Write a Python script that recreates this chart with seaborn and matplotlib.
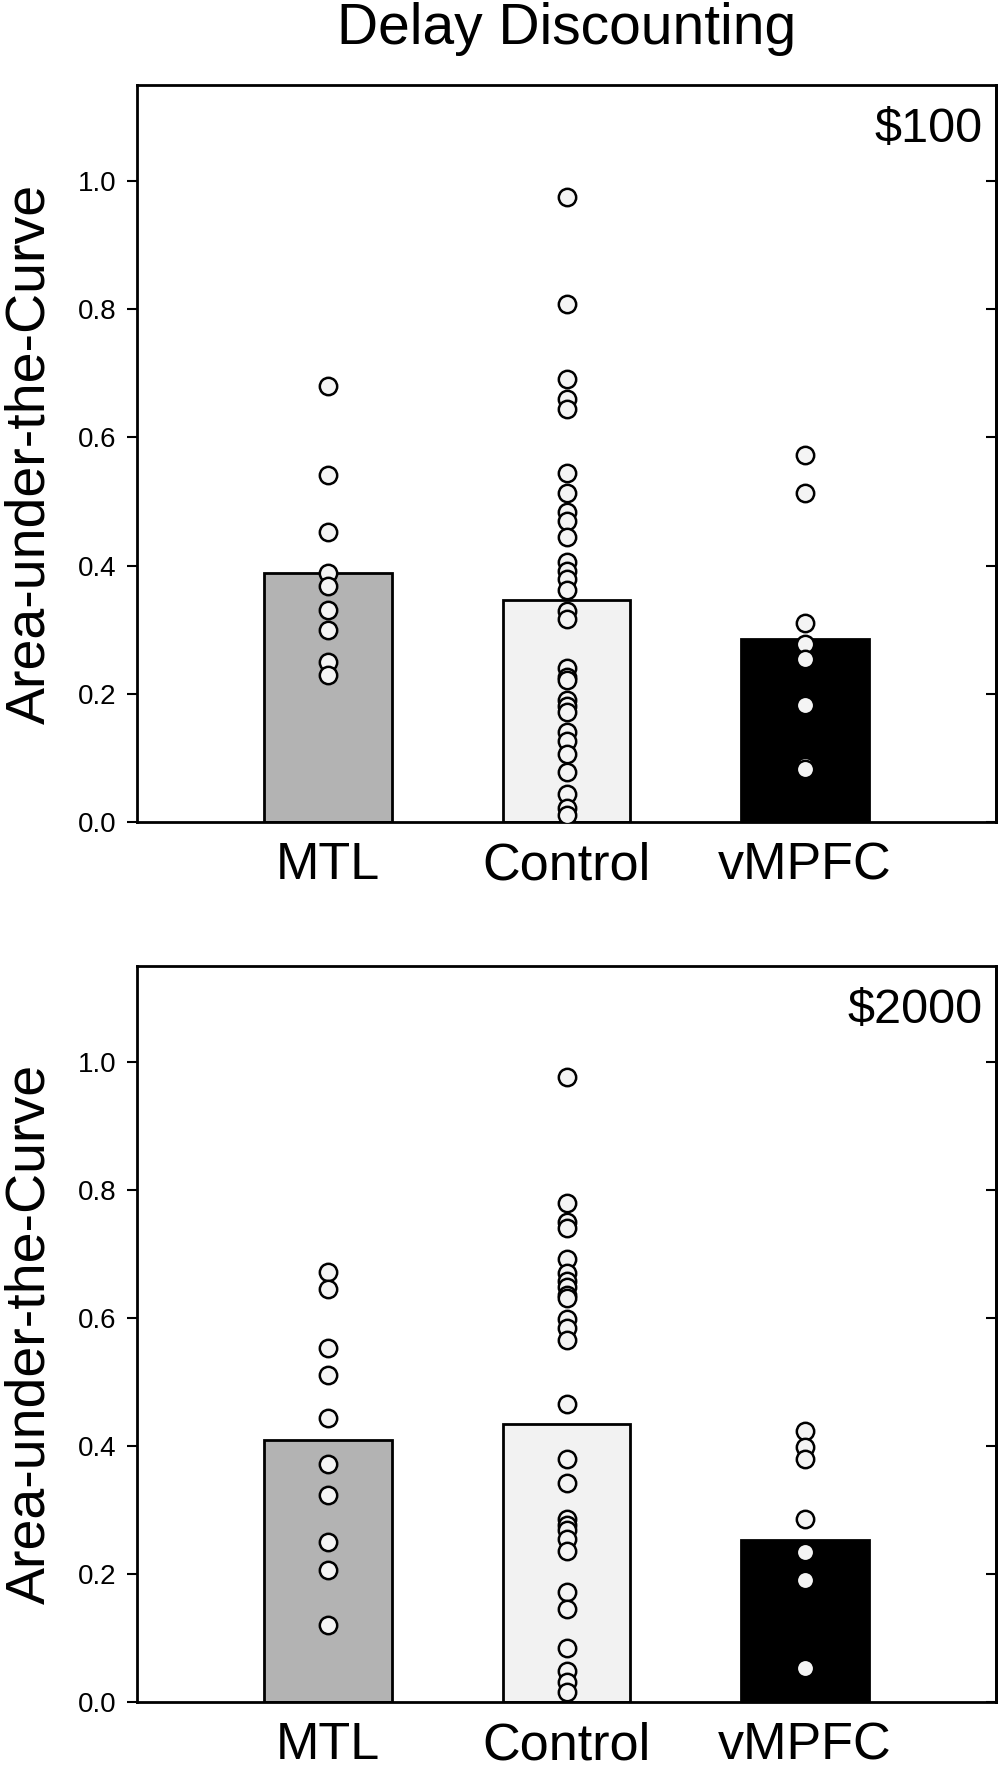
import numpy as np
import pandas as pd
import matplotlib
matplotlib.use('Agg')
import matplotlib.pyplot as plt
import seaborn as sns


groups = ['MTL', 'Control', 'vMPFC']
bar_colors = ['#b3b3b3', '#f2f2f2', '#000000']

# $100 condition
mtl_100 = [0.68, 0.542, 0.452, 0.388, 0.368, 0.331, 0.299, 0.249, 0.229]
control_100 = [0.975, 0.808, 0.692, 0.660, 0.645, 0.545, 0.514, 0.484, 0.470,
               0.444, 0.406, 0.391, 0.379, 0.362, 0.330, 0.317, 0.241, 0.226,
               0.222, 0.190, 0.181, 0.172, 0.141, 0.127, 0.106, 0.078, 0.043,
               0.022, 0.011]
vmpfc_100 = [0.572, 0.513, 0.310, 0.278, 0.255, 0.183, 0.087, 0.083]
means_100 = [0.389, 0.346, 0.286]

# $2000 condition
mtl_2000 = [0.672, 0.645, 0.553, 0.511, 0.443, 0.372, 0.323, 0.250, 0.207, 0.120]
control_2000 = [0.977, 0.779, 0.750, 0.741, 0.692, 0.670, 0.658, 0.649, 0.636,
                0.632, 0.598, 0.585, 0.566, 0.466, 0.380, 0.342, 0.286, 0.277,
                0.268, 0.254, 0.236, 0.172, 0.146, 0.084, 0.048, 0.031, 0.016]
vmpfc_2000 = [0.423, 0.399, 0.380, 0.286, 0.235, 0.190, 0.054, 0.053]
means_2000 = [0.409, 0.435, 0.253]

panels = [
    ('$100', [mtl_100, control_100, vmpfc_100], means_100),
    ('$2000', [mtl_2000, control_2000, vmpfc_2000], means_2000),
]

sns.set_style('ticks')
plt.rcParams['font.family'] = ['Liberation Sans', 'DejaVu Sans']
plt.rcParams.update({
    'text.color': 'black',
    'axes.labelcolor': 'black',
    'axes.edgecolor': 'black',
    'xtick.color': 'black',
    'ytick.color': 'black',
})

W, H = 1002, 1768
fig = plt.figure(figsize=(W / 100, H / 100), dpi=100)

# axes boxes in pixels: (left, top, right, bottom)
boxes = [(137, 85, 996, 822), (137, 966, 996, 1702)]

for (label, points, means), (l, t, r, b) in zip(panels, boxes):
    ax = fig.add_axes([l / W, 1 - b / H, (r - l) / W, (b - t) / H])

    bars = pd.DataFrame({'group': groups, 'auc': means})
    pts = pd.DataFrame({
        'group': np.repeat(groups, [len(p) for p in points]),
        'auc': np.concatenate(points),
    })

    sns.barplot(data=bars, x='group', y='auc', order=groups, hue='group',
                palette=bar_colors, legend=False, width=0.535,
                edgecolor='black', linewidth=2, saturation=1, ax=ax)
    sns.stripplot(data=pts, x='group', y='auc', order=groups, jitter=False,
                  color='#f4f4f4', edgecolor='black', linewidth=1.8,
                  size=12.5, zorder=3, ax=ax)

    ax.set_xlim(-0.8, 2.8)
    ax.set_ylim(0, 1.15)
    ax.set_yticks([0.0, 0.2, 0.4, 0.6, 0.8, 1.0])
    ax.set_yticklabels(['0.0', '0.2', '0.4', '0.6', '0.8', '1.0'])
    ax.tick_params(axis='y', direction='out', length=7, width=1.5,
                   labelsize=20, pad=8)
    ax.tick_params(axis='x', length=0, labelsize=37.5, pad=14)
    for sp in ax.spines.values():
        sp.set_visible(True)
        sp.set_linewidth(2)

    sec = ax.secondary_yaxis('right')
    sec.set_yticks([0.0, 0.2, 0.4, 0.6, 0.8, 1.0])
    sec.tick_params(direction='in', length=7, width=1.5, labelright=False)
    sec.spines['right'].set_linewidth(2)

    ax.set_xlabel('')
    ax.set_ylabel('Area-under-the-Curve', fontsize=40)
    ax.yaxis.set_label_coords(-0.094, 0.5)

    ax.text(0.984, 0.97, label.replace('$', r'\$'), transform=ax.transAxes,
            ha='right', va='top', fontsize=35)

fig.text(566.5 / W, 1 - 44 / H, 'Delay Discounting', ha='center',
         va='baseline', fontsize=41)

fig.savefig('out.png', dpi=100)
